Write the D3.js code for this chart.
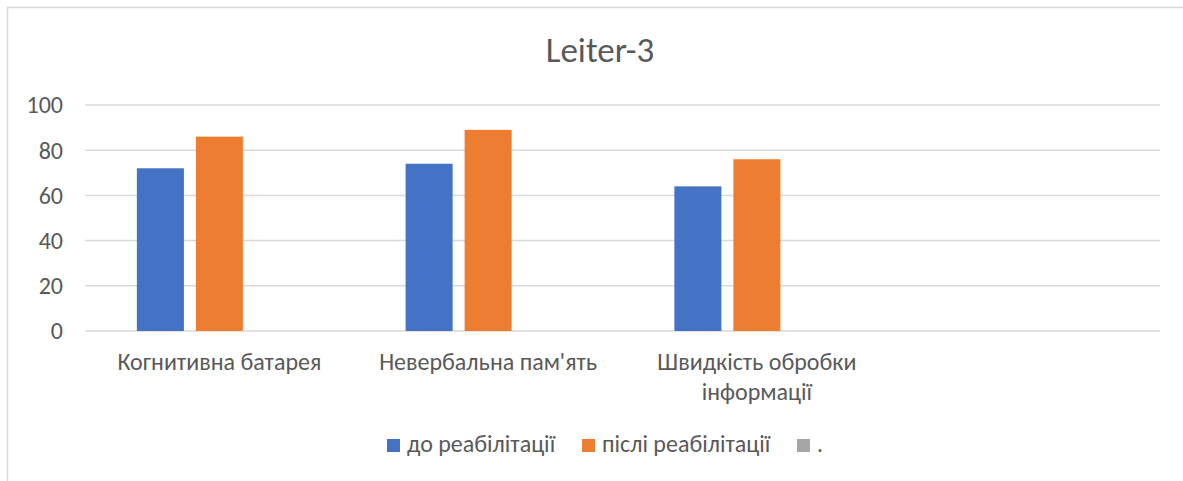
<!DOCTYPE html>
<head>
  <meta charset="utf-8">
  <script src="https://d3js.org/d3.v7.min.js"></script>
  <style>
body { margin: 0; background: #fff; }
text {
    font-family: Carlito, "Liberation Sans Narrow", "Open Sans", sans-serif;
    fill: #595959;
}
.grid line {
    stroke: #d9d9d9;
    stroke-width: 1.5px;
}
  </style>
</head>

<body>
  <script>

    // chart data
    var categories = ['Когнитивна батарея', "Невербальна пам'ять", 'Швидкість обробки інформації', ''];
    var seriesNames = ['до реабілітації', 'післі реабілітації', '.'];
    var before = [72, 74, 64, 0];
    var after = [86, 89, 76, 0];
    var dot = [0, 0, 0, 0];
    var yTicks = [0, 20, 40, 60, 80, 100];
    var colors = ['#4472c4', '#ed7d31', '#a5a5a5'];

    var seriesValues = [before, after, dot];

    var width = 1183;
    var height = 481;
    var plotLeft = 85, plotRight = 1160, plotTop = 105, plotBottom = 331;

    var svg = d3.select("body").append("svg")
      .attr("width", width)
      .attr("height", height);

    // chart frame
    svg.append('rect')
      .attr('x', 7.5).attr('y', 7.5)
      .attr('width', 1200).attr('height', 500)
      .attr('fill', 'none')
      .attr('stroke', '#d9d9d9')
      .attr('stroke-width', 1.5);

    svg.append('text')
      .attr('x', 600).attr('y', 62)
      .attr('text-anchor', 'middle')
      .style('font-size', '35px')
      .text('Leiter-3');

    var x = d3.scaleBand().domain(d3.range(categories.length)).range([plotLeft, plotRight]);
    var xInner = d3.scaleBand().domain(d3.range(seriesNames.length))
      .range([0, x.bandwidth()])
      .paddingInner(0.203)
      .paddingOuter(0.879);
    var y = d3.scaleLinear().domain([0, 100]).range([plotBottom, plotTop]);

    // gridlines
    svg.append('g').attr('class', 'grid')
      .selectAll('line')
      .data(yTicks)
      .enter().append('line')
      .attr('x1', plotLeft).attr('x2', plotRight)
      .attr('y1', d => y(d)).attr('y2', d => y(d));

    // y axis labels
    svg.append('g')
      .selectAll('text')
      .data(yTicks)
      .enter().append('text')
      .attr('x', 63)
      .attr('y', d => y(d))
      .attr('dy', '0.35em')
      .attr('text-anchor', 'end')
      .style('font-size', '24px')
      .text(d => d);

    // bars
    var groups = svg.append('g')
      .selectAll('g')
      .data(seriesValues)
      .enter().append('g')
      .attr('fill', (d, i) => colors[i]);

    groups.selectAll('rect')
      .data((vals, si) => vals.map((v, ci) => ({v: v, si: si, ci: ci})))
      .enter().append('rect')
      .attr('x', d => x(d.ci) + xInner(d.si))
      .attr('width', xInner.bandwidth())
      .attr('y', d => y(d.v))
      .attr('height', d => y(0) - y(d.v));

    // category labels, wrapped to the band
    var catLabels = svg.append('g')
      .selectAll('text')
      .data(categories)
      .enter().append('text')
      .attr('x', (d, i) => x(i) + x.bandwidth() / 2)
      .attr('y', 370)
      .attr('text-anchor', 'middle')
      .style('font-size', '24px')
      .each(function(d, i) {
        var el = d3.select(this);
        var words = d.split(' ');
        var line = [];
        var tspan = el.append('tspan').attr('x', x(i) + x.bandwidth() / 2);
        words.forEach(function(w) {
          line.push(w);
          tspan.text(line.join(' '));
          if (tspan.node().getComputedTextLength() > x.bandwidth() - 20 && line.length > 1) {
            line.pop();
            tspan.text(line.join(' '));
            line = [w];
            tspan = el.append('tspan')
              .attr('x', x(i) + x.bandwidth() / 2)
              .attr('dy', 30)
              .text(w);
          }
        });
      });

    // legend
    var legendX = [387, 582, 797];
    var legend = svg.append('g')
      .selectAll('g')
      .data(seriesNames)
      .enter().append('g')
      .attr('transform', (d, i) => `translate(${legendX[i]},439)`);
    legend.append('rect')
      .attr('width', 13).attr('height', 13)
      .attr('fill', (d, i) => colors[i]);
    legend.append('text')
      .attr('x', 20).attr('y', 13)
      .style('font-size', '24px')
      .text(d => d);

  </script>
</body>
